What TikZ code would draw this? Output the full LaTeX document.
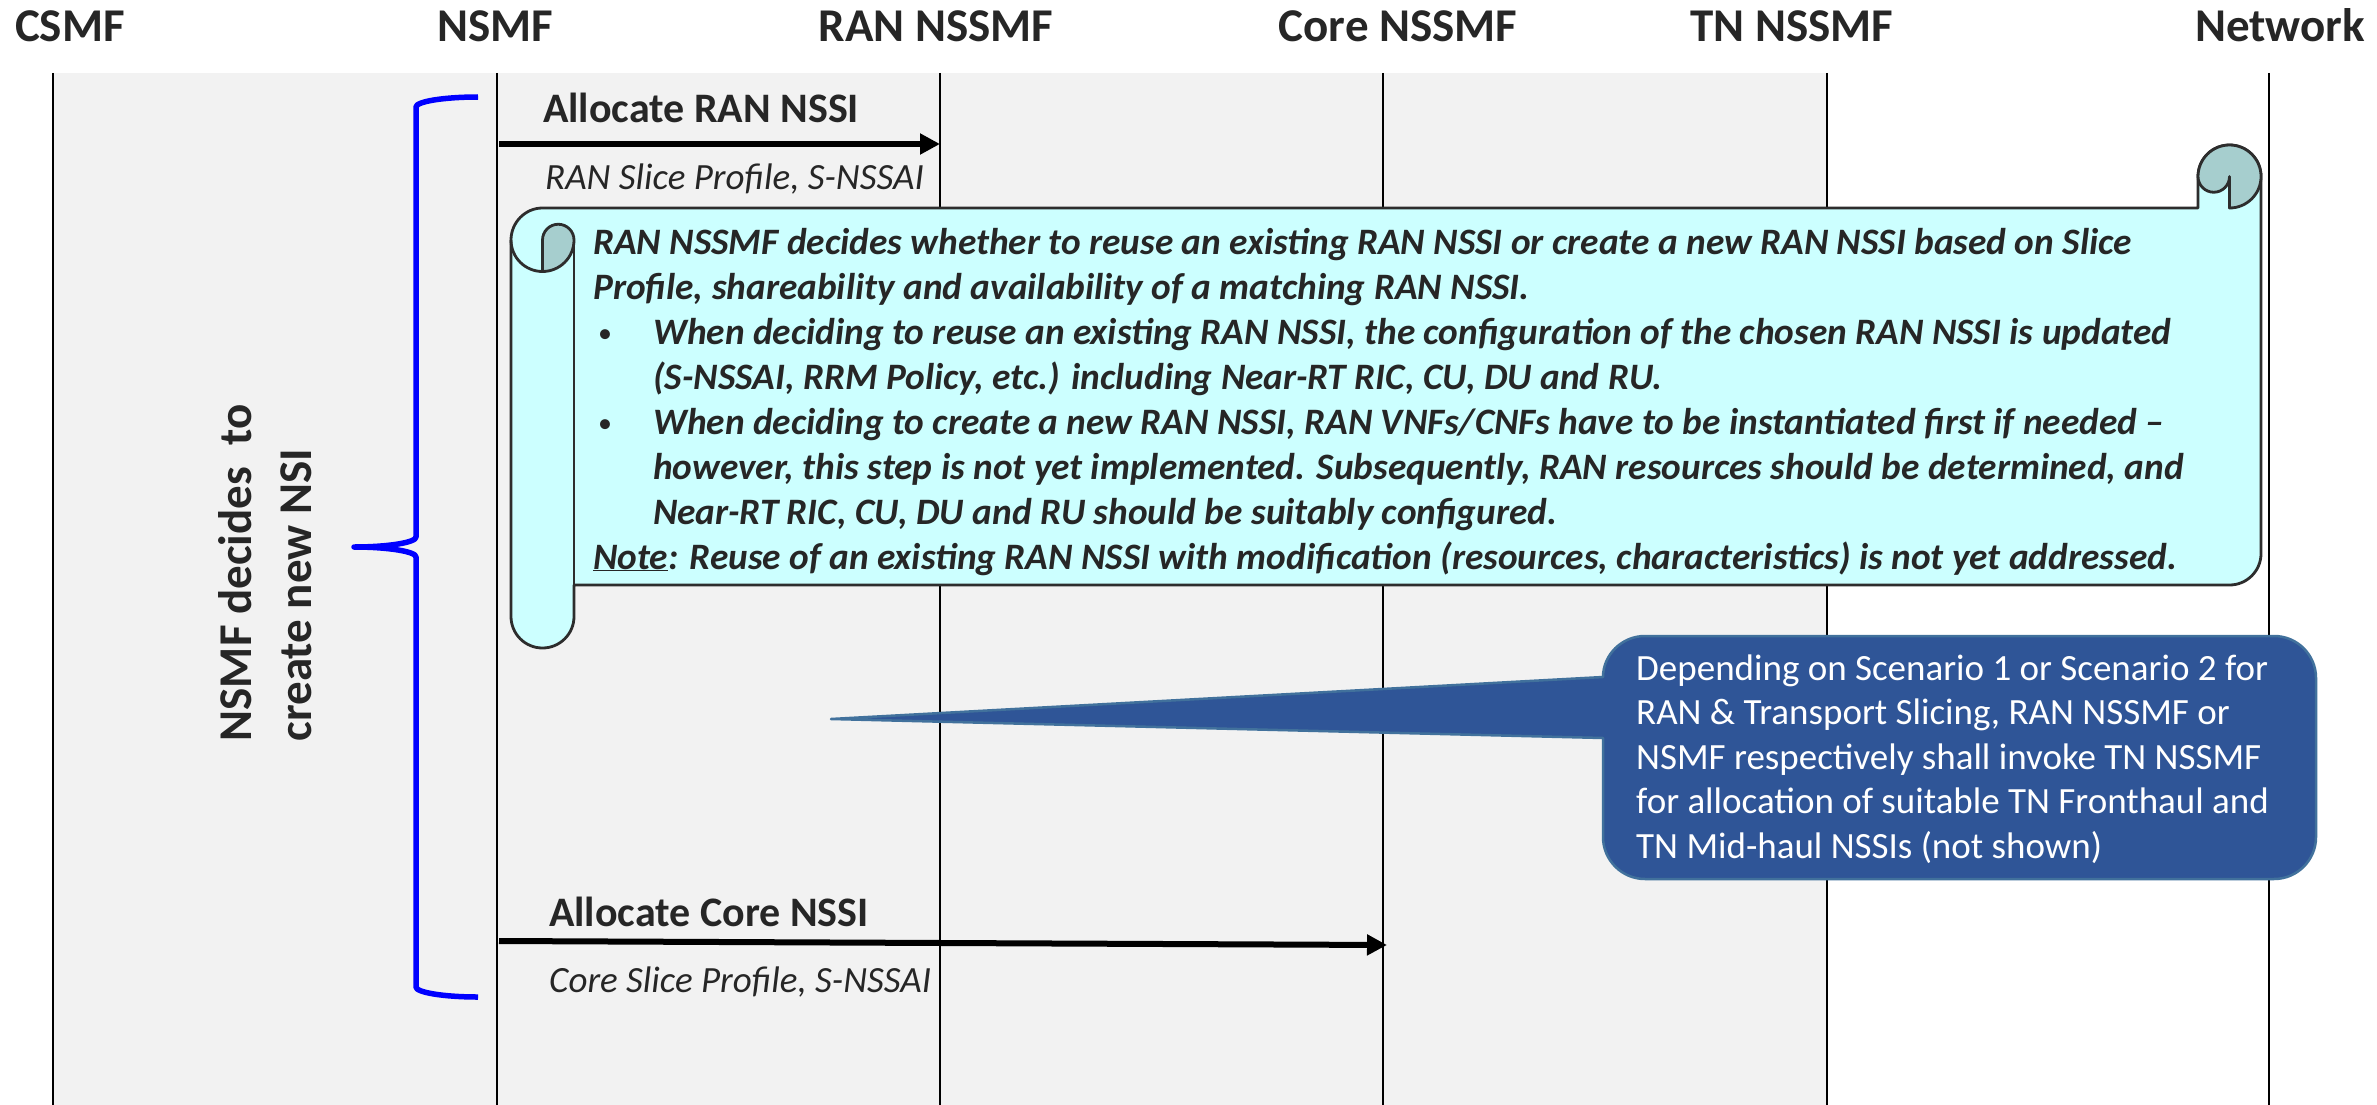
\documentclass[tikz,border=0pt]{standalone}
\usepackage{fontspec}
\setmainfont{Carlito}
\usetikzlibrary{arrows.meta}
\definecolor{bggray}{RGB}{242,242,242}
\definecolor{txt}{RGB}{38,38,38}
\definecolor{scrollfill}{RGB}{204,255,255}
\definecolor{scrolldark}{RGB}{166,206,206}
\definecolor{scrollline}{RGB}{45,45,45}
\definecolor{callfill}{RGB}{47,85,151}
\definecolor{callline}{RGB}{65,113,156}
\definecolor{bracecol}{RGB}{0,0,255}
\begin{document}
\begin{tikzpicture}[x=1pt,y=-1pt,
  header/.style={font=\fontsize{47}{57}\selectfont\bfseries, text=txt, anchor=base, inner sep=0},
  msg/.style={font=\fontsize{42}{50}\selectfont\bfseries, text=txt, anchor=base west, inner sep=0},
  param/.style={font=\fontsize{37}{45}\selectfont\itshape, text=txt, anchor=base west, inner sep=0},
  scrolltext/.style={font=\fontsize{37.3}{45}\selectfont\bfseries\itshape, text=txt, anchor=base west, inner sep=0},
  bulletmark/.style={font=\fontsize{28}{45}\selectfont, text=txt, anchor=base west, inner sep=0},
  calltext/.style={font=\fontsize{37}{45}\selectfont, text=white, anchor=base west, inner sep=0},
  lifeline/.style={line width=2.2pt, black},
  msgarrow/.style={line width=6pt, black, -{Triangle[length=20pt,width=20pt]}},
  scrolledge/.style={draw=scrollline, line width=2.8pt, line join=round},
]
\useasboundingbox (0,0) rectangle (2377,1105);
\fill[white] (0,0) rectangle (2377,1105);
\fill[bggray] (53,73) rectangle (1827,1105);

% lifelines
\foreach \n/\x in {csmf/53,nsmf/497,ran/940,core/1383,tn/1827,net/2269}{
  \coordinate (\n T) at (\x,73);
  \coordinate (\n B) at (\x,1105);
  \draw[lifeline] (\n T) -- (\n B);
}

% headers
\node[header] (hcsmf) at (70,42) {CSMF};
\node[header] (hnsmf) at (495,42) {NSMF};
\node[header] (hran) at (936,42) {RAN NSSMF};
\node[header] (hcore) at (1398,42) {Core NSSMF};
\node[header] (htn) at (1792,42) {TN NSSMF};
\node[header] (hnet) at (2280,42) {Network};

% brace
\draw[bracecol, line width=5.5pt, line join=round]
  (478,97) .. controls (444,97) and (416,101.5) .. (416,107)
  -- (416,537) .. controls (416,542.5) and (388,547) .. (354,547)
  .. controls (388,547) and (416,551.5) .. (416,557)
  -- (416,987) .. controls (416,992.5) and (444,997) .. (478,997);
\node[font=\fontsize{47}{60}\selectfont\bfseries, text=txt, rotate=90, align=left, inner sep=0]
  (decide) at (265,573) {NSMF decides~ to\\create new NSI};

% Allocate RAN NSSI
\coordinate (a1s) at (499,144);
\coordinate (a1e) at (940,144);
\draw[msgarrow] (a1s) -- (a1e);
\node[msg] (m1) at (543,123) {Allocate RAN NSSI};
\node[param] (p1) at (545,189) {RAN Slice Profile, S-NSSAI};

% Allocate Core NSSI
\coordinate (a2s) at (499,941);
\coordinate (a2e) at (1387,945);
\draw[msgarrow] (a2s) -- (a2e);
\node[msg] (m2) at (549,926) {Allocate Core NSSI};
\node[param] (p2) at (549,992) {Core Slice Profile, S-NSSAI};

% scroll main body
\path[fill=scrollfill, scrolledge]
  (542.5,208) -- (2198,208) -- (2198,176.5)
  .. controls (2198,159.1) and (2212.1,145) .. (2229.5,145)
  .. controls (2246.9,145) and (2261,159.1) .. (2261,176.5)
  -- (2261,553.5)
  .. controls (2261,570.9) and (2246.9,585) .. (2229.5,585)
  -- (574,585) -- (574,616.5)
  .. controls (574,633.9) and (559.9,648) .. (542.5,648)
  .. controls (525.1,648) and (511,633.9) .. (511,616.5)
  -- (511,240)
  .. controls (511,222.6) and (525.1,208) .. (542.5,208) -- cycle;
% left curl details
\draw[scrolledge] (574,240) -- (574,585);
\draw[scrolledge] (511,240) .. controls (511,257.4) and (525.1,271.5) .. (542.5,271.5);
\path[fill=scrolldark, scrolledge]
  (542.5,271.5) .. controls (559.9,271.5) and (574,257.4) .. (574,240)
  .. controls (574,231.3) and (566.95,224.25) .. (558.25,224.25)
  .. controls (549.55,224.25) and (542.5,231.3) .. (542.5,240) -- cycle;
% right curl details
\path[fill=scrolldark, scrolledge]
  (2198,176.5)
  .. controls (2198,159.1) and (2212.1,145) .. (2229.5,145)
  .. controls (2246.9,145) and (2261,159.1) .. (2261,176.5)
  .. controls (2261,193.9) and (2246.9,208) .. (2229.5,208)
  -- (2229.5,176.5)
  .. controls (2229.5,185.2) and (2222.45,192.25) .. (2213.75,192.25)
  .. controls (2205.05,192.25) and (2198,185.2) .. (2198,176.5) -- cycle;

% scroll text
\node[scrolltext] (s1) at (593,254) {RAN NSSMF decides whether to reuse an existing RAN NSSI or create a new RAN NSSI based on Slice};
\node[scrolltext] (s2) at (593,299) {Profile, shareability and availability of a matching RAN NSSI.};
\node[bulletmark] (b1) at (598,342) {•};
\node[scrolltext] (s3) at (653,344) {When deciding to reuse an existing RAN NSSI, the configuration of the chosen RAN NSSI is updated};
\node[scrolltext] (s4) at (653,389) {(S-NSSAI, RRM Policy, etc.) including Near-RT RIC, CU, DU and RU.};
\node[bulletmark] (b2) at (598,432) {•};
\node[scrolltext] (s5) at (653,434) {When deciding to create a new RAN NSSI, RAN VNFs/CNFs have to be instantiated first if needed –};
\node[scrolltext] (s6) at (653,479) {however, this step is not yet implemented. Subsequently, RAN resources should be determined, and};
\node[scrolltext] (s7) at (653,524) {Near-RT RIC, CU, DU and RU should be suitably configured.};
\node[scrolltext] (s8) at (593,569) {\underline{Note}: Reuse of an existing RAN NSSI with modification (resources, characteristics) is not yet addressed.};

% callout
\path[draw=callline, fill=callfill, line width=2.5pt, line join=round]
  (1603,677) -- (831,719) -- (1603,738) -- (1603,837)
  .. controls (1603,860.2) and (1621.8,879) .. (1645,879)
  -- (2274,879)
  .. controls (2297.2,879) and (2316,860.2) .. (2316,837)
  -- (2316,678)
  .. controls (2316,654.8) and (2297.2,636) .. (2274,636)
  -- (1645,636)
  .. controls (1621.8,636) and (1603,654.8) .. (1603,677) -- cycle;
\node[calltext] (c1) at (1636,680) {Depending on Scenario 1 or Scenario 2 for};
\node[calltext] (c2) at (1636,724.5) {RAN \& Transport Slicing, RAN NSSMF or};
\node[calltext] (c3) at (1636,769) {NSMF respectively shall invoke TN NSSMF};
\node[calltext] (c4) at (1636,813.5) {for allocation of suitable TN Fronthaul and};
\node[calltext] (c5) at (1636,858) {TN Mid-haul NSSIs (not shown)};
\end{tikzpicture}
\end{document}
